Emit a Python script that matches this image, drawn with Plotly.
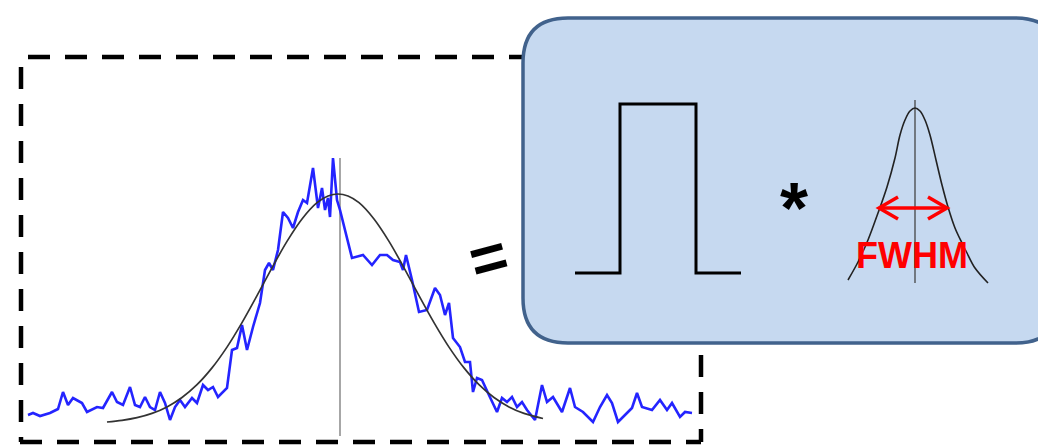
import plotly.graph_objects as go

# Noisy measured profile (blue)
sig_x = [28, 33, 40, 50, 58, 63, 68, 73, 82, 87, 97, 103, 112, 117, 123, 130, 135, 140, 145, 150,
         155, 160, 165, 170, 175, 180, 185, 192, 197, 203, 208, 213, 218, 223, 227, 232, 237, 242,
         247, 253, 260, 265, 269, 273, 278, 283, 288, 293, 298, 303, 307, 313, 318, 322, 325, 328,
         330, 333, 337, 340, 343, 352, 363, 372, 380, 387, 393, 400, 403, 406, 412, 419, 427, 435,
         440, 445, 449, 453, 460, 465, 470, 473, 477, 482, 488, 497, 502, 507, 512, 517, 522, 527,
         535, 542, 547, 553, 562, 570, 575, 583, 593, 600, 607, 612, 618, 625, 632, 637, 642, 652,
         660, 667, 672, 680, 685, 692]
sig_y = [415, 413, 416, 413, 409, 392, 405, 398, 403, 412, 407, 408, 392, 402, 405, 387, 405, 407, 397, 407,
         410, 392, 403, 420, 407, 400, 407, 398, 403, 385, 390, 387, 397, 392, 388, 350, 348, 325,
         350, 327, 303, 270, 263, 270, 250, 212, 218, 228, 212, 200, 203, 168, 208, 188, 210, 198,
         217, 158, 200, 210, 222, 258, 255, 265, 255, 255, 260, 262, 270, 255, 280, 312, 310, 288,
         295, 315, 303, 338, 347, 362, 362, 392, 378, 380, 393, 412, 398, 402, 397, 407, 402, 410,
         420, 385, 402, 397, 412, 388, 407, 412, 422, 407, 395, 403, 422, 415, 408, 393, 407, 410,
         400, 410, 403, 417, 412, 413]

# Gaussian fit (black)
fit_x = [107, 122, 137, 152, 167, 182, 197, 212, 227, 242, 257, 272, 287, 302, 317, 328, 338,
         348, 359, 374, 389, 404, 419, 434, 449, 464, 479, 494, 509, 524, 543]
fit_y = [422, 420.4, 417.7, 413.4, 406.9, 397.5, 384.7, 367.9, 347.1, 322.6, 295.6, 267.8, 241.4, 219, 202.7, 196, 194,
         196, 202.7, 219, 241.4, 267.8, 295.6, 322.6, 347.1, 367.9, 384.7, 397.5, 406.9, 413.4, 418.5]

# Rectangular pulse
pulse_x = [575, 620, 620, 696, 696, 741]
pulse_y = [273, 273, 104, 104, 273, 273]

# Instrument gaussian
g_x = [848, 858, 868, 878, 887, 895, 900, 905, 910, 915, 920, 925, 930, 936, 942, 948, 955, 962, 967, 975, 988]
g_y = [280, 262, 240, 213, 187, 158, 135, 120, 111, 108, 111, 120, 135, 160, 185, 207, 228, 243, 253, 268, 283]

fig = go.Figure()

fig.add_trace(go.Scatter(x=[340, 340], y=[158, 436], mode="lines",
                         line=dict(color="#777777", width=1.3), hoverinfo="skip"))
fig.add_trace(go.Scatter(x=sig_x, y=sig_y, mode="lines",
                         line=dict(color="#2424ff", width=2.6), hoverinfo="skip"))
fig.add_trace(go.Scatter(x=fit_x, y=fit_y, mode="lines", line_shape="spline",
                         line=dict(color="#333333", width=1.7), hoverinfo="skip"))
fig.add_trace(go.Scatter(x=pulse_x, y=pulse_y, mode="lines",
                         line=dict(color="black", width=3), hoverinfo="skip"))
fig.add_trace(go.Scatter(x=[915, 915], y=[100, 283], mode="lines",
                         line=dict(color="#444444", width=1.3), hoverinfo="skip"))
fig.add_trace(go.Scatter(x=g_x, y=g_y, mode="lines", line_shape="spline",
                         line=dict(color="#222222", width=1.6), hoverinfo="skip"))
# FWHM arrow
fig.add_trace(go.Scatter(x=[898, 879, 898, None, 879, 947, None, 928, 947, 928],
                         y=[197, 208, 219, None, 208, 208, None, 197, 208, 219], mode="lines",
                         line=dict(color="#ff0000", width=3.5), hoverinfo="skip"))

dash_line = dict(color="black", width=4.5, dash="22px,15px")
shapes = [
    dict(type="line", layer="below", x0=28, y0=57, x1=701, y1=57, line=dash_line),
    dict(type="line", layer="below", x0=21, y0=67, x1=21, y1=442, line=dash_line),
    dict(type="line", layer="below", x0=20, y0=442, x1=701, y1=442, line=dash_line),
    dict(type="line", layer="below", x0=701, y0=59, x1=701, y1=442, line=dash_line),
    dict(type="path", layer="below",
         path="M 568,18 L 1015,18 Q 1060,18 1060,63 L 1060,298 Q 1060,343 1015,343 "
              "L 568,343 Q 523,343 523,298 L 523,63 Q 523,18 568,18 Z",
         line=dict(color="#41628c", width=3.5), fillcolor="#c6d9f0"),
]

annotations = [
    dict(x=488, y=258, text="<b>=</b>", showarrow=False, textangle=-15,
         font=dict(family="Arial, Liberation Sans", size=64, color="black"),
         xanchor="center", yanchor="middle"),
    dict(x=794, y=208, text="<b>*</b>", showarrow=False,
         font=dict(family="Arial, Liberation Sans", size=72, color="black"),
         xanchor="center", yanchor="middle"),
    dict(x=912, y=255, text="<b>FWHM</b>", showarrow=False,
         font=dict(family="Arial, Liberation Sans", size=36, color="#ff0000"),
         xanchor="center", yanchor="middle"),
]

fig.update_layout(
    width=1038, height=446, margin=dict(l=0, r=0, t=0, b=0),
    paper_bgcolor="white", plot_bgcolor="white", showlegend=False,
    xaxis=dict(range=[0, 1038], visible=False, fixedrange=True),
    yaxis=dict(range=[446, 0], visible=False, fixedrange=True),
    shapes=shapes, annotations=annotations,
)

fig.write_html("out.html", config={"displayModeBar": False},
               post_script="document.body.style.margin='0';document.body.style.overflow='hidden';")
